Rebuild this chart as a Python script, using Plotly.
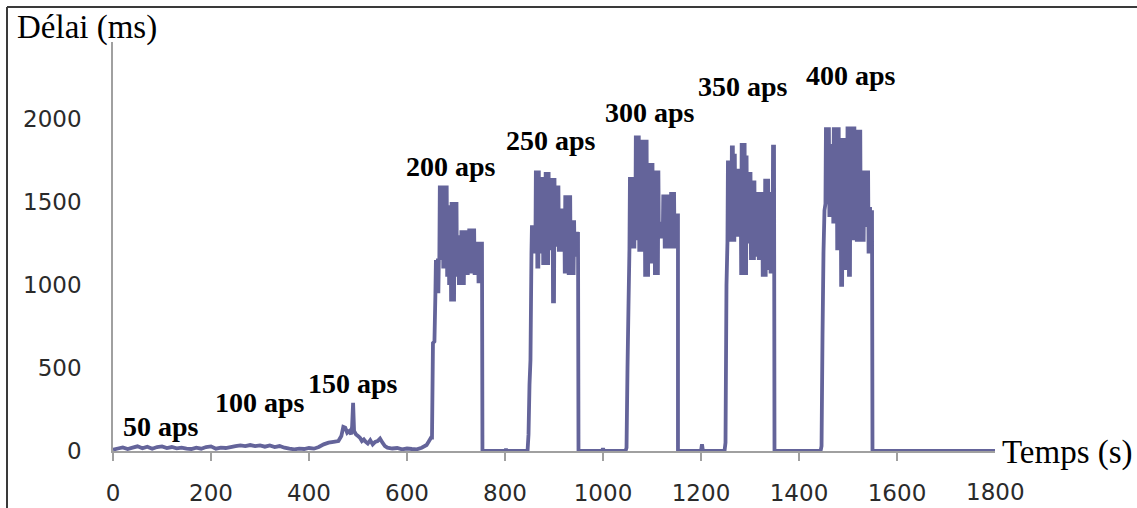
import plotly.graph_objects as go

# ---------------- data ----------------
# time in seconds, delay in ms

# low-load part (50, 100, 150 aps) and start of the 200 aps rise
low_t = [0, 10, 20, 30, 40, 50, 60, 70, 80, 90,
         100, 110, 120, 130, 140, 150, 160, 170, 180, 190,
         200, 210, 220, 230, 240, 250, 260, 270, 280, 290,
         300, 310, 320, 330, 340, 350, 360, 370, 380, 390,
         400, 410, 420, 430, 440, 450, 460, 466, 470, 474,
         478, 482, 486, 488, 490, 492, 496, 500, 504, 508,
         512, 516, 520, 525, 530, 535, 540, 545, 550, 555,
         560, 570, 580, 590, 600, 610, 620, 630, 640, 645,
         649, 651, 653, 656]
low_v = [8, 15, 22, 12, 20, 28, 16, 26, 14, 24,
         28, 18, 24, 16, 20, 14, 12, 20, 14, 24,
         28, 14, 20, 18, 24, 30, 34, 30, 36, 30,
         34, 26, 34, 24, 30, 20, 14, 10, 14, 12,
         18, 14, 24, 40, 50, 55, 60, 90, 145, 140,
         110, 120, 100, 150, 290, 120, 100, 90, 80, 60,
         70, 55, 45, 65, 40, 55, 60, 75, 50, 30,
         20, 15, 18, 10, 15, 12, 10, 20, 36, 60,
         80, 80, 650, 660]

# high-load bursts: start time of 4-s windows, low and high values in each window
b200_t0 = 658
b200_lo = [950, 950, 1150, 1150, 1100, 1100, 1050, 1000, 900, 900, 1050, 1050,
           1000, 1000, 1000, 1060, 1060, 1070, 1070, 1070, 1060, 1060, 1010, 1010]
b200_hi = [1150, 1160, 1600, 1600, 1600, 1600, 1480, 1480, 1500, 1500, 1500, 1300,
           1300, 1330, 1330, 1330, 1330, 1340, 1340, 1340, 1260, 1260, 1260, 1260]

gap1_t = [754, 800, 802, 804, 846, 848, 850, 852]
gap1_v = [0, 0, 12, 0, 0, 100, 400, 550]

b250_t0 = 854
b250_lo = [1190, 1190, 1190, 1100, 1190, 1190, 1120, 1120, 1120, 1210, 1210, 890,
           1230, 1230, 1200, 1200, 1200, 1070, 1070, 1060, 1060, 1060, 1170, 1170]
b250_hi = [1360, 1360, 1690, 1690, 1650, 1650, 1650, 1680, 1680, 1645, 1645, 1645,
           1600, 1600, 1460, 1460, 1460, 1540, 1540, 1540, 1390, 1390, 1320, 1320]

gap2_t = [950, 998, 1000, 1002, 1046, 1048, 1050, 1052]
gap2_v = [0, 0, 15, 0, 0, 20, 500, 870]

b300_t0 = 1054
b300_lo = [1220, 1220, 1220, 1270, 1270, 1200, 1200, 1200, 1050, 1050, 1130, 1130, 1130,
           1060, 1060, 1280, 1280, 1280, 1220, 1220, 1220, 1220, 1220, 1220, 1220]
b300_hi = [1650, 1650, 1650, 1900, 1900, 1875, 1875, 1875, 1875, 1735, 1735, 1735, 1690,
           1690, 1690, 1380, 1380, 1545, 1545, 1545, 1545, 1560, 1560, 1430, 1430]

gap3_t = [1153, 1200, 1202, 1204, 1248, 1250, 1252]
gap3_v = [0, 0, 40, 0, 0, 50, 1000]

b350_t0 = 1254
b350_lo = [1260, 1260, 1260, 1260, 1290, 1290, 1290, 1060, 1060, 1060, 1250, 1250,
           1150, 1150, 1170, 1170, 1150, 1150, 1050, 1050, 1090, 1090, 1070, 1070]
b350_hi = [1750, 1750, 1840, 1790, 1700, 1700, 1700, 1855, 1855, 1780, 1680, 1680,
           1630, 1630, 1550, 1560, 1560, 1560, 1560, 1640, 1640, 1560, 1560, 1845]

gap4_t = [1350, 1444, 1446, 1448, 1450, 1452]
gap4_v = [0, 0, 30, 700, 1200, 1450]

b400_t0 = 1454
b400_lo = [1490, 1490, 1410, 1410, 1370, 1370, 1210, 1210, 990, 1090, 1090, 1090,
           1050, 1270, 1270, 1270, 1260, 1260, 1260, 1260, 1350, 1350, 1190, 1190]
b400_hi = [1950, 1950, 1850, 1850, 1950, 1950, 1950, 1885, 1885, 1885, 1885, 1955,
           1955, 1955, 1955, 1935, 1935, 1935, 1690, 1690, 1690, 1690, 1470, 1450]

tail_t = [1550, 1800]
tail_v = [0, 0]

x_ticks = [0, 200, 400, 600, 800, 1000, 1200, 1400, 1600, 1800]
y_ticks = [0, 500, 1000, 1500, 2000]

# load labels: text, time, delay of label centre
lab_text = ["50 aps", "100 aps", "150 aps", "200 aps", "250 aps", "300 aps", "350 aps", "400 aps"]
lab_t = [97, 299, 490, 690, 894, 1096, 1286, 1507]
lab_v = [145, 295, 404, 1711, 1873, 2042, 2193, 2265]

# ---------------- build series ----------------
# within each 4-s window the delay oscillates every second between its low and high value
def burst(t0, lo, hi):
    ts, vs = [], []
    for i, (a, b) in enumerate(zip(lo, hi)):
        s = t0 + 4 * i
        ts += [s, s + 1, s + 2, s + 3]
        vs += [a, b, a, b]
    return ts, vs

T, V = list(low_t), list(low_v)
for (t0, lo, hi), (gt, gv) in [((b200_t0, b200_lo, b200_hi), (gap1_t, gap1_v)),
                               ((b250_t0, b250_lo, b250_hi), (gap2_t, gap2_v)),
                               ((b300_t0, b300_lo, b300_hi), (gap3_t, gap3_v)),
                               ((b350_t0, b350_lo, b350_hi), (gap4_t, gap4_v)),
                               ((b400_t0, b400_lo, b400_hi), (tail_t, tail_v))]:
    bt, bv = burst(t0, lo, hi)
    T += bt + gt
    V += bv + gv

# ---------------- figure ----------------
W, H = 1137, 508
ML, MR, MT, MB = 113, 142, 42, 57
PW, PH = W - ML - MR, H - MT - MB

def px(xp):
    return (xp - ML) / PW

def py(yp):
    return (H - MB - yp) / PH

LINE = "#64649a"
AX = "#a0a0a0"
TICKFONT = dict(family="DejaVu Sans", size=23, color="#2a2a2a")

fig = go.Figure()
fig.add_trace(go.Scatter(x=T, y=V, mode="lines",
                         line=dict(color=LINE, width=3.8, simplify=False), hoverinfo="skip"))

fig.update_layout(
    width=W, height=H, autosize=False,
    margin=dict(l=ML, r=MR, t=MT, b=MB, pad=0),
    paper_bgcolor="white", plot_bgcolor="white",
    showlegend=False,
    xaxis=dict(range=[0, 1800], tickvals=x_ticks[:-1], ticks="outside", ticklen=8,
               tickwidth=1.5, tickcolor=AX, showline=True, linecolor=AX, linewidth=1.5,
               showgrid=False, zeroline=False, tickfont=TICKFONT, ticklabelstandoff=13,
               automargin=False),
    yaxis=dict(range=[0, PH / 0.166], tickvals=y_ticks, ticks="", showline=True,
               linecolor=AX, linewidth=1.5, showgrid=False, zeroline=False,
               tickfont=TICKFONT, ticklabelstandoff=25, automargin=False),
)

ann = []
for txt, t, v in zip(lab_text, lab_t, lab_v):
    ann.append(dict(x=t, y=v, xref="x", yref="y", text="<b>" + txt + "</b>", showarrow=False,
                    xanchor="center", yanchor="middle",
                    font=dict(family="Liberation Serif", size=28, color="black")))
# last x tick label (no tick mark drawn there in the reference)
ann.append(dict(x=x_ticks[-1], y=0, xref="x", yref="paper", text=str(x_ticks[-1]),
                showarrow=False, xanchor="center", yanchor="middle", yshift=-41,
                font=TICKFONT))
ann.append(dict(x=px(15), y=py(28), xref="paper", yref="paper", text="Délai (ms)",
                showarrow=False, xanchor="left", yanchor="middle",
                font=dict(family="Liberation Serif", size=33, color="black")))
ann.append(dict(x=px(1000), y=py(453), xref="paper", yref="paper", text="Temps (s)",
                showarrow=False, xanchor="left", yanchor="middle",
                font=dict(family="Liberation Serif", size=33, color="black")))
fig.update_layout(annotations=ann)

fig.add_shape(type="line", xref="paper", yref="paper", x0=px(7), x1=px(W), y0=py(7), y1=py(7),
              line=dict(color="#3a3a3a", width=2))
fig.add_shape(type="line", xref="paper", yref="paper", x0=px(7), x1=px(7), y0=py(7), y1=py(H),
              line=dict(color="#3a3a3a", width=2))

fig.write_html("out.html", config={"displayModeBar": False},
               post_script="document.body.style.margin='0';document.body.style.overflow='hidden';")
